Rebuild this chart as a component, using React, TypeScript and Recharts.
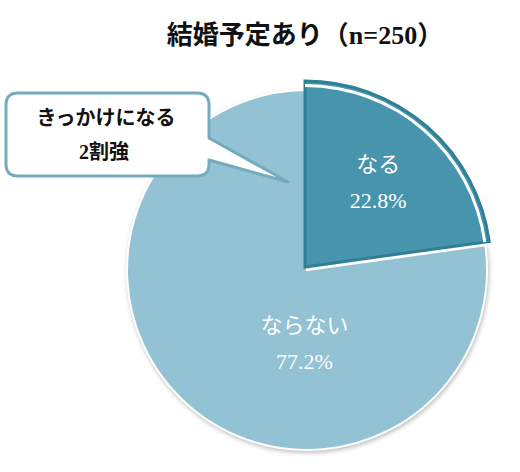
import React from 'react';
import { PieChart, Pie, Cell } from 'recharts';

const categories = ['なる', 'ならない'];
const values = [22.8, 77.2];
const titleText = '結婚予定あり（n=250）';
const calloutLines = ['きっかけになる', '2割強'];

const data = categories.map((name, i) => ({ name, value: values[i] }));

const LIGHT = '#93c2d4';
const DARK = '#4795ad';
const DARK_EDGE = '#2f7f95';
const CALLOUT_EDGE = '#74abbf';
const FONT = '"Liberation Serif", "Noto Sans CJK JP", serif';
const RAD = Math.PI / 180;

const renderLabel = (target: number, angleOverride: number | null, rFrac: number) => (props: any) => {
  const { cx, cy, midAngle, outerRadius, index, name, value } = props;
  if (index !== target) return null;
  const a = angleOverride == null ? midAngle : angleOverride;
  const r = outerRadius * rFrac;
  const x = cx + r * Math.cos(a * RAD);
  const y = cy - r * Math.sin(a * RAD);
  return (
    <g>
      <text x={x} y={y - 18} fill="#fff" textAnchor="middle" dominantBaseline="central" fontSize={22} fontFamily={FONT}>
        {name}
      </text>
      <text x={x} y={y + 18} fill="#fff" textAnchor="middle" dominantBaseline="central" fontSize={22} fontFamily={FONT}>
        {`${Number(value).toFixed(1)}%`}
      </text>
    </g>
  );
};

export default function App() {
  return (
    <div style={{ position: 'absolute', left: 0, top: 0, width: 520, height: 472, background: '#fff', overflow: 'hidden' }}>
      <PieChart width={520} height={472} margin={{ top: 0, right: 0, bottom: 0, left: 0 }}>
        <Pie
          data={data}
          dataKey="value"
          nameKey="name"
          cx={307}
          cy={270}
          outerRadius={180}
          startAngle={90}
          endAngle={-270}
          isAnimationActive={false}
          labelLine={false}
          label={renderLabel(1, -92, 0.41)}
        >
          <Cell fill="transparent" stroke="none" />
          <Cell fill={LIGHT} stroke="#fff" strokeWidth={2} style={{ filter: 'drop-shadow(1px 2px 2px rgba(0,0,0,0.25))' }} />
        </Pie>
        <Pie
          data={data}
          dataKey="value"
          nameKey="name"
          cx={305}
          cy={267}
          outerRadius={186}
          startAngle={90}
          endAngle={-270}
          isAnimationActive={false}
          labelLine={false}
          label={renderLabel(0, null, 0.6)}
        >
          <Cell fill={DARK} stroke={DARK_EDGE} strokeWidth={3} />
          <Cell fill="transparent" stroke="none" />
        </Pie>
        <Pie
          data={data}
          dataKey="value"
          nameKey="name"
          cx={305}
          cy={267}
          innerRadius={180}
          outerRadius={183}
          startAngle={90}
          endAngle={-270}
          isAnimationActive={false}
          label={false}
          labelLine={false}
        >
          <Cell fill="#ffffff" stroke="none" />
          <Cell fill="transparent" stroke="none" />
        </Pie>
      </PieChart>
      <div
        style={{
          position: 'absolute',
          left: 0,
          width: 610,
          top: 18,
          textAlign: 'center',
          fontFamily: FONT,
          fontWeight: 'bold',
          fontSize: 26,
          lineHeight: '36px',
          color: '#111',
          whiteSpace: 'nowrap',
        }}
      >
        {titleText}
      </div>
      <svg width={520} height={472} style={{ position: 'absolute', left: 0, top: 0, pointerEvents: 'none' }}>
        <path
          d="M 18 93 H 197 Q 209 93 209 105 V 138 L 288 182 L 209 160 V 164 Q 209 176 197 176 H 18 Q 6 176 6 164 V 105 Q 6 93 18 93 Z"
          fill="#fff"
          stroke={CALLOUT_EDGE}
          strokeWidth={3}
          strokeLinejoin="round"
        />
        <text x={106} y={118} textAnchor="middle" dominantBaseline="central" fontSize={20} fontWeight="bold" fontFamily={FONT} fill="#111">
          {calloutLines[0]}
        </text>
        <text x={104} y={152} textAnchor="middle" dominantBaseline="central" fontSize={20} fontWeight="bold" fontFamily={FONT} fill="#111">
          {calloutLines[1]}
        </text>
      </svg>
    </div>
  );
}
